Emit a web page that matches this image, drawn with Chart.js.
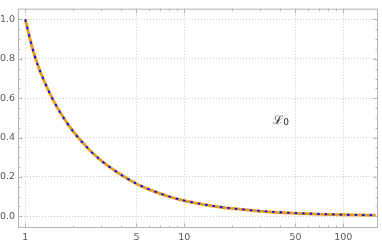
<!DOCTYPE html>
<html>
<head>
<meta charset="utf-8">
<script src="https://cdn.jsdelivr.net/npm/chart.js@4/dist/chart.umd.min.js"></script>
<style>
html,body{margin:0;padding:0;background:#fff;}
#wrap{width:382px;height:246px;position:relative;}
</style>
</head>
<body>
<div id="wrap"><canvas id="c" width="382" height="246"></canvas></div>
<script>
// x values (log axis) and curve values
const xValues = [1, 1.1, 1.2, 1.3, 1.4, 1.5, 1.7, 2, 2.5, 3, 4, 5, 6, 8, 10, 15, 20, 30, 50, 70, 100, 130, 160];
const exactValues = [1, 0.864, 0.767, 0.696, 0.638, 0.589, 0.513, 0.431, 0.342, 0.283, 0.211, 0.166, 0.137, 0.101, 0.080, 0.053, 0.040, 0.027, 0.016, 0.0115, 0.008, 0.0062, 0.005];
const approxValues = [1, 0.864, 0.767, 0.696, 0.638, 0.589, 0.513, 0.431, 0.342, 0.283, 0.211, 0.165, 0.136, 0.100, 0.079, 0.052, 0.039, 0.026, 0.015, 0.0108, 0.0075, 0.0058, 0.0047];
const xLabelTicks = [1, 5, 10, 50, 100];
const xMinorTicks = [2, 3, 4, 6, 7, 8, 9, 20, 30, 40, 60, 70, 80, 90];
const yLabelTicks = [0, 0.2, 0.4, 0.6, 0.8, 1.0];
const yMinorTicks = [0.05, 0.1, 0.15, 0.25, 0.3, 0.35, 0.45, 0.5, 0.55, 0.65, 0.7, 0.75, 0.85, 0.9, 0.95];
const curveLabel = {x: 40.6, y: 0.485, main: 'ℒ', sub: '0'};

const frameColor = '#b4b4b4';
const gridColor = '#c8c8c8';

const framePlugin = {
  id: 'frame',
  afterDatasetsDraw(chart) {
    const ctx = chart.ctx, a = chart.chartArea;
    const xs = chart.scales.x, ys = chart.scales.y;
    ctx.save();
    ctx.strokeStyle = frameColor;
    ctx.lineWidth = 1;
    ctx.strokeRect(a.left + 0.5, a.top + 0.5, a.right - a.left - 1, a.bottom - a.top - 1);
    ctx.beginPath();
    const tick = (v, len, axis) => {
      if (axis === 'x') {
        const p = Math.round(xs.getPixelForValue(v)) + 0.5;
        ctx.moveTo(p, a.bottom); ctx.lineTo(p, a.bottom - len);
        ctx.moveTo(p, a.top); ctx.lineTo(p, a.top + len);
      } else {
        const p = Math.round(ys.getPixelForValue(v)) + 0.5;
        ctx.moveTo(a.left, p); ctx.lineTo(a.left + len, p);
        ctx.moveTo(a.right, p); ctx.lineTo(a.right - len, p);
      }
    };
    xLabelTicks.forEach(v => tick(v, 4.5, 'x'));
    xMinorTicks.forEach(v => tick(v, 2.5, 'x'));
    yLabelTicks.forEach(v => tick(v, 4.5, 'y'));
    yMinorTicks.forEach(v => tick(v, 2.5, 'y'));
    ctx.stroke();
    // curve label
    const px = xs.getPixelForValue(curveLabel.x), py = ys.getPixelForValue(curveLabel.y);
    ctx.fillStyle = '#222';
    ctx.textBaseline = 'middle';
    ctx.textAlign = 'center';
    ctx.font = '12px "DejaVu Serif"';
    ctx.fillText(curveLabel.main, px - 3, py);
    ctx.font = '9px "DejaVu Sans"';
    ctx.fillText(curveLabel.sub, px + 5, py + 2);
    ctx.restore();
  }
};

new Chart(document.getElementById('c'), {
  type: 'scatter',
  data: {
    datasets: [
      {
        label: 'approx',
        data: xValues.map((x, i) => ({x, y: approxValues[i]})),
        showLine: true,
        borderColor: '#E49E2A',
        borderWidth: 3,
        pointRadius: 0,
        cubicInterpolationMode: 'monotone',
        order: 2
      },
      {
        label: 'exact',
        data: xValues.map((x, i) => ({x, y: exactValues[i]})),
        showLine: true,
        borderColor: '#0000ff',
        borderWidth: 1.8,
        borderDash: [2.5, 5],
        pointRadius: 0,
        cubicInterpolationMode: 'monotone',
        order: 1
      }
    ]
  },
  options: {
    responsive: false,
    animation: false,
    layout: {padding: {top: 4, right: 4, left: 0, bottom: 0}},
    plugins: {legend: {display: false}, tooltip: {enabled: false}},
    scales: {
      x: {
        type: 'logarithmic',
        min: 0.8997,
        max: 165.3,
        afterBuildTicks: s => { s.ticks = xLabelTicks.map(v => ({value: v})); },
        afterFit: s => { s.height = 18; },
        ticks: {
          autoSkip: false, maxRotation: 0, padding: 4,
          color: '#5a5a5a', font: {family: 'DejaVu Sans', size: 9.5},
          callback: v => String(v)
        },
        grid: {color: gridColor, lineWidth: 1, drawTicks: false},
        border: {display: false, dash: [1, 2]}
      },
      y: {
        min: -0.0597,
        max: 1.0547,
        afterBuildTicks: s => { s.ticks = yLabelTicks.map(v => ({value: v})); },
        afterFit: s => { s.width = 18; },
        ticks: {
          autoSkip: false, padding: 3,
          color: '#5a5a5a', font: {family: 'DejaVu Sans', size: 9.5},
          callback: v => Number(v).toFixed(1)
        },
        grid: {color: gridColor, lineWidth: 1, drawTicks: false},
        border: {display: false, dash: [1, 2]}
      }
    }
  },
  plugins: [framePlugin]
});
</script>
</body>
</html>
